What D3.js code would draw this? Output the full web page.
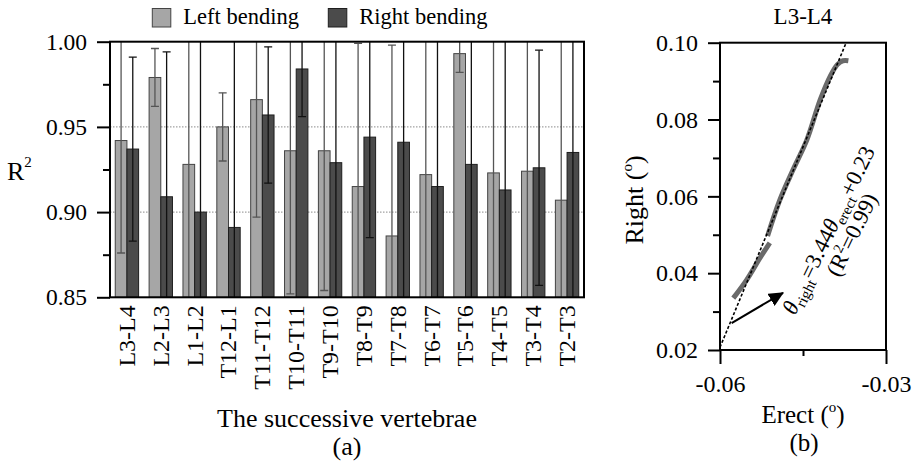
<!DOCTYPE html>
<html lang="en">
<head>
  <meta charset="UTF-8" />
  <title>R2 per vertebra pair</title>
  <script src="https://d3js.org/d3.v7.min.js"></script>
  <style>
    html, body {
      margin: 0;
      padding: 0;
      background: #fff;
    }
    svg {
      display: block;
      font-family: "Liberation Serif", "Times New Roman", serif;
    }
  </style>
</head>
<body>
<svg width="914" height="470"></svg>

<script>
// ---- data (a) ----
const categories = ["L3-L4", "L2-L3", "L1-L2", "T12-L1", "T11-T12", "T10-T11", "T9-T10",
                    "T8-T9", "T7-T8", "T6-T7", "T5-T6", "T4-T5", "T3-T4", "T2-T3"];
const leftMean  = [0.942, 0.979, 0.928, 0.950, 0.966, 0.936, 0.936, 0.915, 0.886, 0.922, 0.993, 0.923, 0.924, 0.907];
const leftSd    = [0.066, 0.017, 0.090, 0.020, 0.069, 0.084, 0.082, 0.084, 0.112, 0.090, 0.011, 0.090, 0.090, 0.100];
const rightMean = [0.937, 0.909, 0.900, 0.891, 0.957, 0.984, 0.929, 0.944, 0.941, 0.915, 0.928, 0.913, 0.926, 0.935];
const rightSd   = [0.054, 0.085, 0.110, 0.115, 0.040, 0.028, 0.080, 0.059, 0.100, 0.100, 0.100, 0.100, 0.069, 0.100];
const seriesNames = ["Left bending", "Right bending"];
const yTicksA = [0.85, 0.90, 0.95, 1.00];
const yMinorA = [0.875, 0.925, 0.975];

// ---- data (b) ----
// measured curve (two pieces, separated by null)
const curveErect = [-0.0576, -0.0552, -0.0528, -0.0510, null,
                    -0.0514, -0.0492, -0.0468, -0.0443, -0.0419, -0.0400, -0.0388, -0.0378, -0.0368];
const curveRight = [0.0335, 0.0382, 0.0439, 0.0479, null,
                    0.0497, 0.0590, 0.0669, 0.0747, 0.0851, 0.0915, 0.0943, 0.0953, 0.0953];
const fitErect = [-0.060, -0.0372];
const fitRight = [0.0207, 0.100];
const arrowErect = [-0.0579, -0.0486];
const arrowRight = [0.0270, 0.0349];
const yTicksB = [0.02, 0.04, 0.06, 0.08, 0.10];
const yMinorB = [0.03, 0.05, 0.07, 0.09];
const xTicksB = [-0.06, -0.03];
const xMinorB = [-0.045];

const svg = d3.select("svg");
const lightFill = "#a6a6a6", darkFill = "#4b4b4b";

// ================= panel (a) =================
const A = {left: 110, right: 584, top: 41.7, bottom: 297.3};

const x = d3.scaleBand().domain(categories).range([A.left, A.right])
  .paddingInner(0.31).paddingOuter(0.155);
const xs = d3.scaleBand().domain([0, 1]).range([0, x.bandwidth()]);
const y = d3.scaleLinear().domain([0.85, 1.0]).range([A.bottom, A.top]);

svg.append("clipPath").attr("id", "clipA")
  .append("rect").attr("x", A.left).attr("y", A.top)
  .attr("width", A.right - A.left).attr("height", A.bottom - A.top);

// dotted grid
svg.append("g").selectAll("line")
  .data([0.90, 0.95])
  .join("line")
  .attr("x1", A.left).attr("x2", A.right)
  .attr("y1", d => y(d)).attr("y2", d => y(d))
  .attr("stroke", "#8a8a8a").attr("stroke-width", 1)
  .attr("stroke-dasharray", "1.5,1.5");

const rows = categories.map((c, i) => ({
  cat: c,
  vals: [
    {s: 0, m: leftMean[i], sd: leftSd[i]},
    {s: 1, m: rightMean[i], sd: rightSd[i]}
  ]
}));

const groups = svg.append("g").selectAll("g")
  .data(rows)
  .join("g")
  .attr("transform", d => `translate(${x(d.cat)},0)`);

groups.selectAll("rect")
  .data(d => d.vals)
  .join("rect")
  .attr("x", d => xs(d.s))
  .attr("width", xs.bandwidth())
  .attr("y", d => y(d.m))
  .attr("height", d => y(0.85) - y(d.m))
  .attr("fill", d => d.s ? darkFill : lightFill)
  .attr("stroke", d => d.s ? "#1e1e1e" : "#444")
  .attr("stroke-width", 1);

// error bars
const err = svg.append("g").attr("clip-path", "url(#clipA)");
rows.forEach(r => {
  r.vals.forEach(v => {
    const cx = x(r.cat) + xs(v.s) + xs.bandwidth() / 2;
    const col = v.s ? "#111" : "#555";
    const g = err.append("g").attr("stroke", col).attr("stroke-width", 1.3);
    g.append("line").attr("x1", cx).attr("x2", cx)
      .attr("y1", y(v.m - v.sd)).attr("y2", y(v.m + v.sd));
    [v.m - v.sd, v.m + v.sd].forEach(e => {
      g.append("line").attr("x1", cx - 4).attr("x2", cx + 4)
        .attr("y1", y(e)).attr("y2", y(e));
    });
  });
});

// frame
svg.append("rect")
  .attr("x", A.left).attr("y", A.top)
  .attr("width", A.right - A.left).attr("height", A.bottom - A.top)
  .attr("fill", "none").attr("stroke", "#000").attr("stroke-width", 2);

// y axis
const yAxA = svg.append("g").attr("transform", `translate(${A.left},0)`)
  .call(d3.axisLeft(y).tickValues(yTicksA).tickSize(13).tickPadding(10)
    .tickSizeOuter(0).tickFormat(d3.format(".2f")));
yAxA.select(".domain").remove();
yAxA.selectAll("line").attr("stroke-width", 2);
yAxA.selectAll("text").attr("font-size", 23.5).attr("font-family", "Liberation Serif").attr("fill", "#000");
const yMinA = svg.append("g").attr("transform", `translate(${A.left},0)`)
  .call(d3.axisLeft(y).tickValues(yMinorA).tickSize(7).tickFormat(""));
yMinA.select(".domain").remove();
yMinA.selectAll("line").attr("stroke-width", 2);

// x axis labels
const xAxA = svg.append("g").attr("transform", `translate(0,${A.bottom})`)
  .call(d3.axisBottom(x).tickSize(0));
xAxA.select(".domain").remove();
xAxA.selectAll("text")
  .attr("font-size", 24).attr("font-family", "Liberation Serif").attr("fill", "#000")
  .attr("transform", "rotate(-90)")
  .attr("text-anchor", "end")
  .attr("x", -8).attr("y", 0).attr("dy", "0.33em");

// R^2 label
const rLab = svg.append("text").attr("x", 7).attr("y", 180).attr("font-size", 26);
rLab.append("tspan").text("R");
rLab.append("tspan").attr("font-size", 15).attr("dy", -13).text("2");

svg.append("text").attr("x", 347).attr("y", 427).attr("text-anchor", "middle")
  .attr("font-size", 26).text("The successive vertebrae");
svg.append("text").attr("x", 347).attr("y", 455).attr("text-anchor", "middle")
  .attr("font-size", 26).text("(a)");

// legend
const legX = [152.3, 328.3];
seriesNames.forEach((n, i) => {
  svg.append("rect").attr("x", legX[i]).attr("y", 8.5).attr("width", 18.5).attr("height", 18.5)
    .attr("fill", i ? darkFill : lightFill).attr("stroke", i ? "#1e1e1e" : "#444").attr("stroke-width", 1);
  svg.append("text").attr("x", legX[i] + 31).attr("y", 24).attr("font-size", 22.5).text(n);
});

// ================= panel (b) =================
const B = {left: 720, right: 886, top: 42.7, bottom: 350};
const xb = d3.scaleLinear().domain([-0.06, -0.03]).range([B.left, B.right]);
const yb = d3.scaleLinear().domain([0.02, 0.10]).range([B.bottom, B.top]);

const curvePts = curveErect.map((e, i) => [e, curveRight[i]]);
svg.append("path")
  .datum(curvePts)
  .attr("fill", "none").attr("stroke", "#6a6a6a").attr("stroke-width", 5)
  .attr("stroke-linecap", "butt")
  .attr("d", d3.line().defined(d => d[0] !== null)
    .x(d => xb(d[0])).y(d => yb(d[1])).curve(d3.curveCatmullRom));

svg.append("path")
  .datum(fitErect.map((e, i) => [e, fitRight[i]]))
  .attr("fill", "none").attr("stroke", "#000").attr("stroke-width", 1.6)
  .attr("stroke-dasharray", "3,2")
  .attr("d", d3.line().x(d => xb(d[0])).y(d => yb(d[1])));

// arrow
svg.append("defs").append("marker")
  .attr("id", "head").attr("markerUnits", "userSpaceOnUse")
  .attr("markerWidth", 16).attr("markerHeight", 14)
  .attr("refX", 14).attr("refY", 7).attr("orient", "auto")
  .append("path").attr("d", "M0,0L15,7L0,14Z").attr("fill", "#000");
svg.append("line")
  .attr("x1", xb(arrowErect[0])).attr("y1", yb(arrowRight[0]))
  .attr("x2", xb(arrowErect[1])).attr("y2", yb(arrowRight[1]))
  .attr("stroke", "#000").attr("stroke-width", 2)
  .attr("marker-end", "url(#head)");

// frame
svg.append("rect")
  .attr("x", B.left).attr("y", B.top)
  .attr("width", B.right - B.left).attr("height", B.bottom - B.top)
  .attr("fill", "none").attr("stroke", "#000").attr("stroke-width", 2);

const yAxB = svg.append("g").attr("transform", `translate(${B.left},0)`)
  .call(d3.axisLeft(yb).tickValues(yTicksB).tickSize(12).tickPadding(10)
    .tickSizeOuter(0).tickFormat(d3.format(".2f")));
yAxB.select(".domain").remove();
yAxB.selectAll("line").attr("stroke-width", 2);
yAxB.selectAll("text").attr("font-size", 24).attr("font-family", "Liberation Serif").attr("fill", "#000");
const yMinB = svg.append("g").attr("transform", `translate(${B.left},0)`)
  .call(d3.axisLeft(yb).tickValues(yMinorB).tickSize(7).tickFormat(""));
yMinB.select(".domain").remove();
yMinB.selectAll("line").attr("stroke-width", 2);

const xAxB = svg.append("g").attr("transform", `translate(0,${B.bottom})`)
  .call(d3.axisBottom(xb).tickValues(xTicksB).tickSize(14).tickPadding(11)
    .tickSizeOuter(0).tickFormat(d => d.toFixed(2)));
xAxB.select(".domain").remove();
xAxB.selectAll("line").attr("stroke-width", 2);
xAxB.selectAll("text").attr("font-size", 24).attr("font-family", "Liberation Serif").attr("fill", "#000");
const xMinB = svg.append("g").attr("transform", `translate(0,${B.bottom})`)
  .call(d3.axisBottom(xb).tickValues(xMinorB).tickSize(6).tickFormat(""));
xMinB.select(".domain").remove();
xMinB.selectAll("line").attr("stroke-width", 2);

svg.append("text").attr("x", 803).attr("y", 24).attr("text-anchor", "middle")
  .attr("font-size", 23).text("L3-L4");

const yl = svg.append("text").attr("transform", "translate(643,200) rotate(-90)")
  .attr("text-anchor", "middle").attr("font-size", 26);
yl.append("tspan").text("Right (");
yl.append("tspan").attr("font-size", 15).attr("dy", -11).text("o");
yl.append("tspan").attr("dy", 11).text(")");

const xl = svg.append("text").attr("x", 803).attr("y", 423).attr("text-anchor", "middle")
  .attr("font-size", 25);
xl.append("tspan").text("Erect (");
xl.append("tspan").attr("font-size", 15).attr("dy", -11).text("o");
xl.append("tspan").attr("dy", 11).text(")");

svg.append("text").attr("x", 804).attr("y", 451).attr("text-anchor", "middle")
  .attr("font-size", 25).text("(b)");

// equation annotation
const ann = svg.append("g").attr("transform", "translate(795,316) rotate(-64)");
const eq = ann.append("text").attr("font-size", 22.5);
eq.append("tspan").attr("font-style", "italic").text("θ");
eq.append("tspan").attr("font-size", 15).attr("dy", 5).text("right");
eq.append("tspan").attr("dy", -5).text("=3.44");
eq.append("tspan").attr("font-style", "italic").text("θ");
eq.append("tspan").attr("font-size", 15).attr("dy", 5).text("erect");
eq.append("tspan").attr("dy", -5).text("+0.23");
const r2 = ann.append("text").attr("x", 98).attr("y", 23).attr("text-anchor", "middle").attr("font-size", 22.5);
r2.append("tspan").text("(R");
r2.append("tspan").attr("font-size", 14).attr("dy", -9).text("2");
r2.append("tspan").attr("dy", 9).text("=0.99)");
</script>
</body>
</html>
